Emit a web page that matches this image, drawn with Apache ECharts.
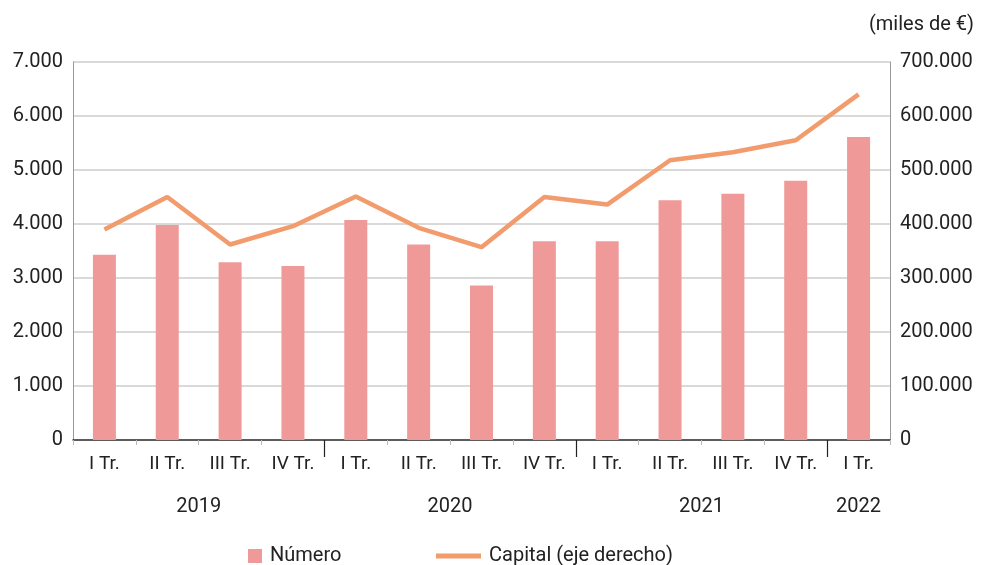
<!DOCTYPE html>
<html>
<head>
<meta charset="utf-8">
<script src="https://cdn.jsdelivr.net/npm/echarts@6/dist/echarts.min.js"></script>
<style>
    html, body { margin: 0; padding: 0; background: #fff; }
    #chart { width: 981px; height: 565px; }
</style>
</head>
<body>
<div id="chart"></div>
<script>
// datos
var quarters = ["I Tr.", "II Tr.", "III Tr.", "IV Tr.", "I Tr.", "II Tr.", "III Tr.", "IV Tr.", "I Tr.", "II Tr.", "III Tr.", "IV Tr.", "I Tr."];
var numero = [3430, 3980, 3290, 3220, 4075, 3620, 2860, 3680, 3680, 4440, 4560, 4800, 5610];
var capital = [390000, 450000, 362000, 396000, 451000, 393000, 357000, 450000, 436000, 518000, 533000, 555000, 640000];
var years = ["2019", "2020", "2021", "2022"];
var yearQuarters = [4, 4, 4, 1];  // trimestres por año

var barColor = "#EF9A98";
var lineColor = "#F29B6C";
var font = "Roboto, 'Noto Sans', sans-serif";

// posiciones de años y separadores sobre el eje de trimestres
var yearCenters = [];
var yearTicks = [];
var acc = 0;
yearQuarters.forEach(function (n, i) {
    yearCenters.push(acc + n / 2);
    acc += n;
    if (i < yearQuarters.length - 1) yearTicks.push(acc);
});

function miles(v) {
    return String(Math.round(v)).replace(/\B(?=(\d{3})+(?!\d))/g, ".");
}

var chart = echarts.init(document.getElementById("chart"));

var option = {
    animation: false,
    textStyle: { fontFamily: font },
    title: {
        text: "(miles de €)",
        right: 2,
        top: 10,
        textStyle: { fontSize: 20, fontWeight: "normal", color: "#222", fontFamily: font }
    },
    grid: { left: 73, right: 91, top: 62, bottom: 125, containLabel: false },
    legend: [
        {
            data: ["Número"],
            left: 243,
            top: 541,
            icon: "rect",
            itemWidth: 14,
            itemHeight: 14,
            textStyle: { fontSize: 20, color: "#222", fontFamily: font, padding: [0, 0, 0, 3] }
        },
        {
            data: ["Capital (eje derecho)"],
            left: 431,
            top: 541,
            icon: "rect",
            itemWidth: 45,
            itemHeight: 5,
            textStyle: { fontSize: 20, color: "#222", fontFamily: font, padding: [0, 0, 0, 3] }
        }
    ],
    xAxis: [
        {
            type: "category",
            data: quarters,
            position: "bottom",
            axisLine: { lineStyle: { color: "#333", width: 1.5 } },
            axisTick: { show: true, length: 5, lineStyle: { color: "#bbb" } },
            axisLabel: { fontSize: 19, color: "#222", margin: 15, interval: 0 }
        },
        {
            type: "value",
            min: 0,
            max: quarters.length,
            position: "bottom",
            axisLine: { show: false },
            splitLine: { show: false },
            axisTick: {
                show: true,
                length: 17,
                customValues: yearTicks,
                lineStyle: { color: "#222", width: 1.2 }
            },
            axisLabel: {
                customValues: yearCenters,
                margin: 57,
                fontSize: 20,
                color: "#222",
                formatter: function (v) {
                    var i = yearCenters.indexOf(v);
                    return i >= 0 ? years[i] : "";
                }
            }
        }
    ],
    yAxis: [
        {
            type: "value",
            min: 0,
            max: 7000,
            interval: 1000,
            axisLine: { show: true, lineStyle: { color: "#999" } },
            axisTick: { show: false },
            splitLine: { lineStyle: { color: "#ccc", width: 1.5 } },
            axisLabel: { fontSize: 20, color: "#222", margin: 10, formatter: miles }
        },
        {
            type: "value",
            min: 0,
            max: 700000,
            interval: 100000,
            axisLine: { show: true, lineStyle: { color: "#999" } },
            axisTick: { show: false },
            splitLine: { show: false },
            axisLabel: { fontSize: 20, color: "#222", margin: 10, formatter: miles }
        }
    ],
    series: [
        {
            name: "Número",
            type: "bar",
            data: numero,
            barWidth: 23,
            itemStyle: { color: barColor }
        },
        {
            name: "Capital (eje derecho)",
            type: "line",
            yAxisIndex: 1,
            data: capital,
            showSymbol: false,
            symbol: "none",
            lineStyle: { color: lineColor, width: 4.5 },
            itemStyle: { color: lineColor }
        }
    ]
};

chart.setOption(option);
</script>
</body>
</html>
